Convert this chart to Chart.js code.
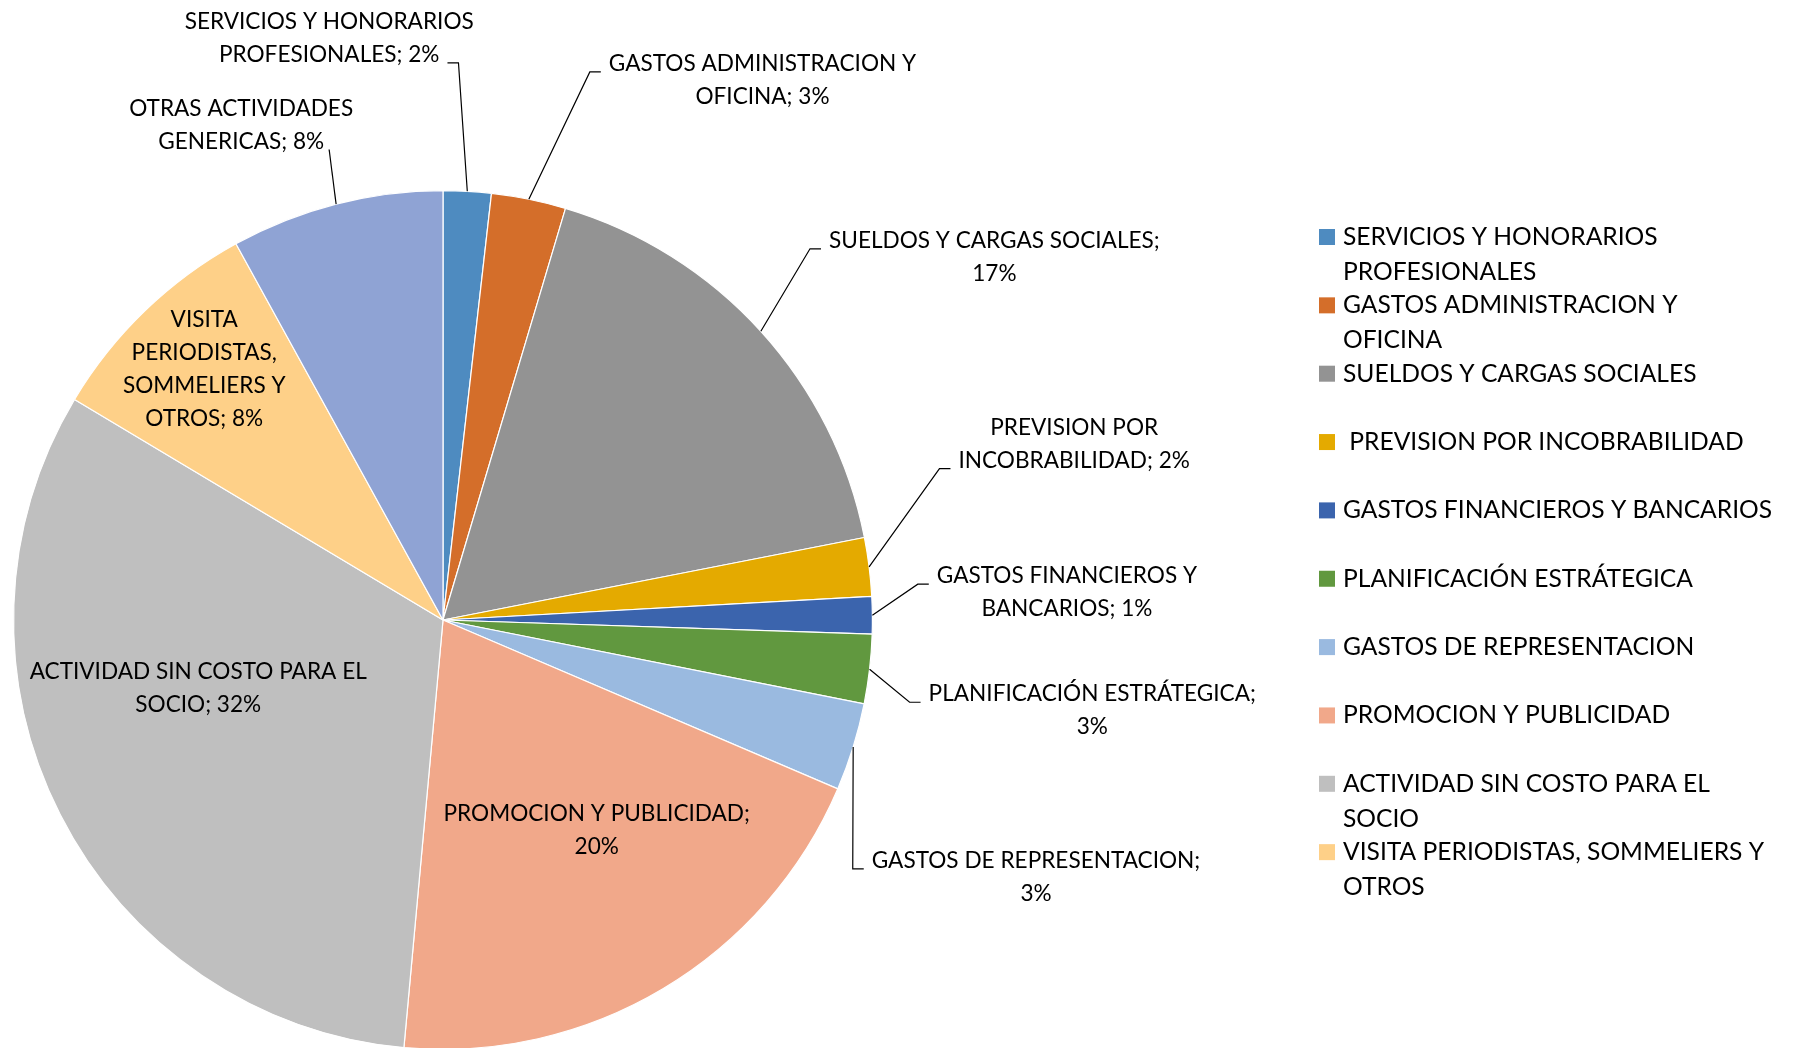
<!DOCTYPE html>
<html>
<head>
<meta charset="utf-8">
<script src="https://cdn.jsdelivr.net/npm/chart.js@4.4.1/dist/chart.umd.min.js"></script>
<style>
  html, body { margin: 0; padding: 0; background: #fff; overflow: hidden; }
  #wrap { position: relative; width: 1793px; height: 1060px; }
</style>
</head>
<body>
<div id="wrap"><canvas id="pieChart"></canvas></div>
<script>
const categories = [
  'SERVICIOS Y HONORARIOS PROFESIONALES',
  'GASTOS ADMINISTRACION Y OFICINA',
  'SUELDOS Y CARGAS SOCIALES',
  ' PREVISION POR INCOBRABILIDAD',
  'GASTOS FINANCIEROS Y BANCARIOS',
  'PLANIFICACIÓN ESTRÁTEGICA',
  'GASTOS DE REPRESENTACION',
  'PROMOCION Y PUBLICIDAD',
  'ACTIVIDAD SIN COSTO PARA EL SOCIO',
  'VISITA PERIODISTAS, SOMMELIERS Y OTROS',
  'OTRAS ACTIVIDADES GENERICAS'
];
const shares = [1.8, 2.8, 17.3, 2.2, 1.4, 2.6, 3.3, 20.0, 32.1, 8.4, 8.0];
const sliceColors = ['#4E8BC0', '#D46E2A', '#939393', '#E4AA00', '#3B64AD', '#61983F',
  '#9ABAE0', '#F1A88A', '#BFBFBF', '#FED088', '#8FA3D4'];

// data label layout: centre offset from pie centre in radius units
const labelOffsets = [[-0.265, -1.357], [0.744, -1.259], [1.284, -0.847], [1.470, -0.412],
  [1.453, -0.066], [1.512, 0.209], [1.381, 0.597], [0.358, 0.487], [-0.570, 0.157],
  [-0.556, -0.585], [-0.470, -1.155]];
const labelWords = [[3], [3], [4], [2], [3], [2], [3], [3], [5], [1, 1, 2], [2]];
const leaderSide = ['R', 'L', 'L', 'L', 'L', 'L', 'L', null, null, null, 'R'];
const leaderLine = [1, 0, 0, 1, 0, 0, 0, 0, 0, 0, 1];
const leaderStub = [11, 11, 11, 11, 11, 11, 11, 0, 0, 0, 0];
// legend shows the first ten categories only
const legendCount = 10;
const legendWords = [[3], [3], [], [], [], [], [], [], [5], [4]];

const FONT = 'Lato, "Open Sans", sans-serif';
const total = shares.reduce((a, b) => a + b, 0);

function splitWords(text, counts) {
  const words = text.trim().split(' ');
  const lines = [];
  let i = 0;
  counts.forEach(c => { lines.push(words.slice(i, i + c).join(' ')); i += c; });
  if (i < words.length) lines.push(words.slice(i).join(' '));
  return lines.filter(l => l.length);
}

const pieLabels = {
  id: 'pieLabels',
  afterDatasetsDraw(chart) {
    const ctx = chart.ctx;
    const arcs = chart.getDatasetMeta(0).data;
    ctx.save();
    ctx.font = '22.6px ' + FONT;
    ctx.fillStyle = '#000';
    ctx.strokeStyle = '#000';
    ctx.lineWidth = 1.2;
    ctx.textAlign = 'center';
    ctx.textBaseline = 'alphabetic';
    const lh = 33;
    arcs.forEach((arc, i) => {
      const p = arc.getProps(['x', 'y', 'startAngle', 'endAngle', 'outerRadius'], true);
      const r = p.outerRadius;
      const cx = p.x + labelOffsets[i][0] * r;
      const cy = p.y + labelOffsets[i][1] * r;
      const pct = Math.round(shares[i] / total * 100) + '%';
      const lines = splitWords(categories[i] + '; ' + pct, labelWords[i]);
      const n = lines.length;
      const base = lines.map((l, k) => cy + (k - (n - 1) / 2) * lh + 8);
      lines.forEach((l, k) => ctx.fillText(l, cx, base[k]));

      if (leaderSide[i]) {
        const mid = (p.startAngle + p.endAngle) / 2;
        const ax = p.x + Math.cos(mid) * r;
        const ay = p.y + Math.sin(mid) * r;
        const k = leaderLine[i];
        const w = ctx.measureText(lines[k]).width;
        const sy = base[k] + 1;
        let x0, x1;
        if (leaderSide[i] === 'L') {
          x0 = cx - w / 2 - 8;
          x1 = x0 - leaderStub[i];
        } else {
          x0 = cx + w / 2 + (leaderStub[i] ? 8 : 5);
          x1 = x0 + leaderStub[i];
        }
        ctx.beginPath();
        ctx.moveTo(x0, sy);
        ctx.lineTo(x1, sy);
        ctx.lineTo(ax, ay);
        ctx.stroke();
      }
    });
    ctx.restore();
  },
  afterDraw(chart) {
    const ctx = chart.ctx;
    ctx.save();
    ctx.font = '24.6px ' + FONT;
    ctx.textAlign = 'left';
    ctx.textBaseline = 'alphabetic';
    categories.slice(0, legendCount).forEach((c, i) => {
      const y = 245 + i * 68.35;
      ctx.fillStyle = sliceColors[i];
      ctx.fillRect(1319, y - 16, 16, 16);
      ctx.fillStyle = '#000';
      const lines = splitWords(c, legendWords[i]);
      if (c.startsWith(' ')) lines[0] = ' ' + lines[0];
      lines.forEach((l, k) => ctx.fillText(l, 1343, y + k * 35));
    });
    ctx.restore();
  }
};

new Chart(document.getElementById('pieChart'), {
  type: 'pie',
  data: {
    labels: categories,
    datasets: [{
      data: shares,
      backgroundColor: sliceColors,
      borderColor: '#ffffff',
      borderWidth: 1.2
    }]
  },
  options: {
    responsive: true,
    maintainAspectRatio: false,
    animation: false,
    layout: { padding: { left: 13, right: 920, top: 190, bottom: 10 } },
    plugins: {
      legend: { display: false },
      tooltip: { enabled: false }
    }
  },
  plugins: [pieLabels]
});
</script>
</body>
</html>
